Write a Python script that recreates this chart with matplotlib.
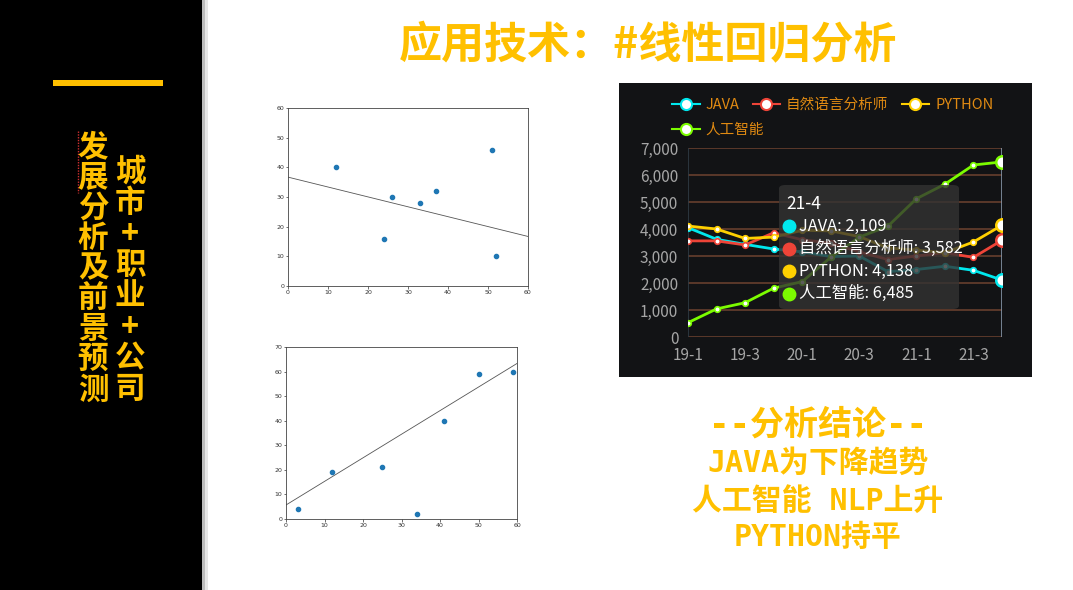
import matplotlib
matplotlib.use("Agg")
import matplotlib.pyplot as plt
from matplotlib.patches import Rectangle, FancyBboxPatch
from matplotlib.lines import Line2D

plt.rcParams["font.family"] = ["Noto Sans CJK SC", "DejaVu Sans"]

W, H = 1073, 590
GOLD = "#FFC000"

# regression scatter 1
s1_x = [12, 24, 26, 33, 37, 51, 52]
s1_y = [40, 16, 30, 28, 32, 46, 10]
s1_line_x = [0, 60]
s1_line_y = [36.7, 16.7]

# regression scatter 2
s2_x = [3, 12, 25, 34, 41, 50, 59]
s2_y = [4, 19, 21, 2, 40, 59, 60]
s2_line_x = [0, 60]
s2_line_y = [5.7, 63.3]

# quarterly demand chart
quarters = ["19-1", "19-2", "19-3", "19-4", "20-1", "20-2",
            "20-3", "20-4", "21-1", "21-2", "21-3", "21-4"]
java   = [4050, 3620, 3430, 3260, 3150, 2980, 3000, 2420, 2500, 2620, 2470, 2109]
nlp    = [3560, 3560, 3410, 3860, 3600, 3480, 3150, 2870, 3000, 3120, 2950, 3582]
python = [4110, 4000, 3650, 3700, 3950, 3930, 3720, 3300, 3220, 3120, 3520, 4138]
ai     = [530, 1040, 1270, 1810, 2050, 2950, 3700, 4100, 5120, 5660, 6370, 6485]
series_names  = ["JAVA", "自然语言分析师", "PYTHON", "人工智能"]
series_colors = ["#00E8EE", "#EE4438", "#FFD000", "#7CFC00"]
y_ticks = [0, 1000, 2000, 3000, 4000, 5000, 6000, 7000]

conclusions = ["--分析结论--", "JAVA为下降趋势", "人工智能 NLP上升", "PYTHON持平"]


def px_box(left, top, right, bottom):
    return [left / W, (H - bottom) / H, (right - left) / W, (bottom - top) / H]


def fx(x):
    return x / W


def fy(y):
    return (H - y) / H


fig = plt.figure(figsize=(W / 100, H / 100), dpi=100, facecolor="white")

# ---- left black panel ----
fig.add_artist(Rectangle((0, 0), fx(202), 1, transform=fig.transFigure,
                         facecolor="black", edgecolor="none", zorder=0))
fig.add_artist(Rectangle((fx(202), 0), fx(3), 1, transform=fig.transFigure,
                         facecolor="#bdbdbd", edgecolor="none", zorder=0))
fig.add_artist(Rectangle((fx(205), 0), fx(3), 1, transform=fig.transFigure,
                         facecolor="#e6e6e6", edgecolor="none", zorder=0))
fig.add_artist(Rectangle((fx(53), fy(86)), fx(110), 6 / H, transform=fig.transFigure,
                         facecolor=GOLD, edgecolor="none", zorder=1))

col1 = "城市+职业+公司"
for i, ch in enumerate(col1):
    fig.text(fx(130), fy(172 + i * 31), ch, color=GOLD, fontsize=22,
             fontweight="bold", ha="center", va="center")
col2 = "发展分析及前景预测"
for i, ch in enumerate(col2):
    fig.text(fx(93), fy(147 + i * 30.3), ch, color=GOLD, fontsize=22,
             fontweight="bold", ha="center", va="center")
fig.add_artist(Line2D([fx(78), fx(78)], [fy(131), fy(193)], transform=fig.transFigure,
                      color="#d03030", lw=1, linestyle=(0, (1, 1))))

# ---- title ----
fig.text(fx(648), fy(45), "应用技术：#线性回归分析", color=GOLD, fontsize=31,
         fontweight="bold", ha="center", va="center")


# ---- scatter plots ----
def scatter_panel(box, xs, ys, lx, ly, ymax):
    ax = fig.add_axes(box)
    ax.scatter(xs, ys, s=9, color="#1f77b4", zorder=3)
    ax.plot(lx, ly, color="#555555", lw=0.6)
    ax.set_xlim(0, 60)
    ax.set_ylim(0, ymax)
    ax.set_xticks(range(0, 61, 10))
    ax.set_yticks(range(0, ymax + 1, 10))
    ax.tick_params(labelsize=4.5, length=1.8, width=0.5, pad=1, colors="#333333")
    for sp in ax.spines.values():
        sp.set_linewidth(0.6)
        sp.set_color("#444444")
    for lab in ax.get_xticklabels() + ax.get_yticklabels():
        lab.set_family("DejaVu Sans")
    return ax


scatter_panel(px_box(288, 108, 528, 286), s1_x, s1_y, s1_line_x, s1_line_y, 60)
scatter_panel(px_box(286, 347, 517, 519), s2_x, s2_y, s2_line_x, s2_line_y, 70)

# ---- dark line chart ----
fig.add_artist(Rectangle((fx(619), fy(377)), fx(413), 294 / H, transform=fig.transFigure,
                         facecolor="#121315", edgecolor="none", zorder=0))

ax = fig.add_axes(px_box(688, 148, 1002, 337))
ax.set_facecolor("#121315")
xs = list(range(len(quarters)))
handles = []
for vals, name, col in zip([java, nlp, python, ai], series_names, series_colors):
    ax.plot(xs, vals, color=col, lw=2, marker="o", markersize=4,
            markerfacecolor="white", markeredgecolor=col, markeredgewidth=1.2,
            zorder=3, solid_joinstyle="round")
    ax.plot(xs[-1], vals[-1], marker="o", markersize=9, markerfacecolor="white",
            markeredgecolor=col, markeredgewidth=1.8, zorder=4, linestyle="none")
    handles.append(Line2D([], [], color=col, lw=1.5, marker="o", markersize=8,
                          markerfacecolor="white", markeredgecolor=col,
                          markeredgewidth=1.5, label=name))

ax.set_xlim(0, len(quarters) - 1)
ax.set_ylim(0, 7000)
ax.set_yticks(y_ticks)
ax.set_yticklabels([f"{v:,}" for v in y_ticks])
ax.set_xticks(xs[::2])
ax.set_xticklabels(quarters[::2])
ax.tick_params(length=0, labelsize=11, colors="#a6a6a6", pad=7)
ax.grid(axis="y", color="#6e4230", lw=1.1)
ax.set_axisbelow(True)
for sp in ax.spines.values():
    sp.set_visible(False)
ax.axvline(0, color="#2f3b45", lw=1.2, zorder=2)
ax.axvline(len(quarters) - 1, color="#8796a8", lw=1.2, zorder=2)

leg1 = fig.legend(handles=handles[:3], loc="center left",
                  bbox_to_anchor=(fx(672), fy(105)), ncol=3, frameon=False,
                  fontsize=10.5, handlelength=1.9, handletextpad=0.4,
                  columnspacing=0.9, borderpad=0, borderaxespad=0, labelcolor="#E08A12")
leg2 = fig.legend(handles=handles[3:], loc="center left",
                  bbox_to_anchor=(fx(672), fy(130)), frameon=False,
                  fontsize=10.5, handlelength=1.9, handletextpad=0.4,
                  borderpad=0, borderaxespad=0, labelcolor="#E08A12")

# tooltip
tip = FancyBboxPatch((fx(779), fy(309)), fx(180), 124 / H, transform=fig.transFigure,
                     boxstyle="round,pad=0,rounding_size=0.006",
                     facecolor="#333333", alpha=0.8, edgecolor="none", zorder=5)
fig.add_artist(tip)
fig.text(fx(786), fy(204), quarters[-1], color="white", fontsize=12.5,
         va="center", ha="left", zorder=6)
for i, (vals, name, col) in enumerate(zip([java, nlp, python, ai], series_names, series_colors)):
    yy = fy(226 + i * 22.6)
    fig.add_artist(Line2D([fx(789)], [yy], transform=fig.transFigure, marker="o",
                          markersize=9, color=col, linestyle="none", zorder=6))
    fig.text(fx(799), yy, f"{name}: {vals[-1]:,}", color="white", fontsize=11.8,
             va="center", ha="left", zorder=6)

# ---- conclusions ----
conc_sizes = [24.5, 21.5, 21.5, 21.5]
conc_y = [425, 463, 501, 537]
for txt, size, yy in zip(conclusions, conc_sizes, conc_y):
    fig.text(fx(818), fy(yy), txt, color=GOLD, fontsize=size, fontweight="bold",
             family=["DejaVu Sans Mono", "Noto Sans CJK SC"], ha="center", va="center")

fig.savefig("out.png", dpi=100, facecolor=fig.get_facecolor())
